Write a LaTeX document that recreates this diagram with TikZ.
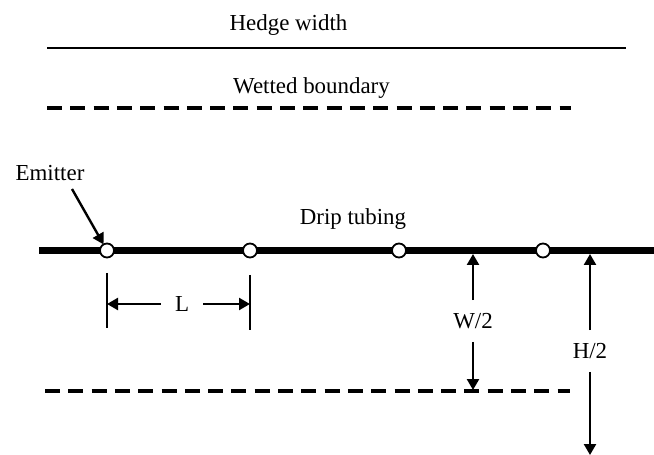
\documentclass[tikz,border=0pt]{standalone}
\usepackage{fontspec}
\setmainfont{Liberation Serif}
\usetikzlibrary{arrows.meta}

\begin{document}
\begin{tikzpicture}[
  x=1bp, y=-1bp,
  font=\fontsize{23}{27}\selectfont,
  dimarrow/.style={line width=2.4bp, -{Triangle[length=11bp,width=12bp]}},
  emitter/.style={circle, draw, fill=white, line width=1.8bp,
    minimum size=14bp, inner sep=0pt, outer sep=0pt},
  dimlbl/.style={inner xsep=2bp, inner ysep=13bp},
  boundary/.style={line width=3.4bp, dash pattern=on 15bp off 8.3bp},
]
\useasboundingbox (0,0) rectangle (654,455);

% Geometry
\def\tubeY{250.5}   % centre line of the drip tubing
\def\tubeEdge{254}  % lower edge of the tubing (arrow tips stop here)
\def\wetY{390}      % lower wetted boundary

% ── Hedge width and upper wetted boundary ───────────────────────────────
\node[anchor=base] (hedgelbl) at (288.5,31) {Hedge width};
\draw[line width=2.4bp] (47,48) -- (626,48);

\node[anchor=base] (wetlbl) at (311.5,94) {Wetted boundary};
\draw[boundary] (47,108) -- (571,108);

% ── Drip tubing with emitters ───────────────────────────────────────────
\draw[line width=7bp] (39,\tubeY) -- (654,\tubeY);
\node[anchor=base] (tubelbl) at (353,225) {Drip tubing};

\foreach \n/\xx in {1/107, 2/250, 3/399, 4/543} {
  \node[emitter] (e\n) at (\xx,\tubeY) {};
}

% Emitter label and its pointer
\node[anchor=base] (emitlbl) at (50,181) {Emitter};
\coordinate (emitstart) at (72,189);
\draw[dimarrow] (emitstart) -- (e1);

% ── Emitter spacing L ───────────────────────────────────────────────────
\coordinate (ltop1) at (107,273);
\coordinate (lbot1) at (107,328);
\coordinate (ltop2) at (250,275);
\coordinate (lbot2) at (250,330);
\draw[line width=2.2bp] (ltop1) -- (lbot1);
\draw[line width=2.2bp] (ltop2) -- (lbot2);

\node[inner xsep=14bp] (llbl) at (182,304) {L};
\draw[dimarrow] (llbl.west) -- (107,304 -| ltop1);
\draw[dimarrow] (llbl.east) -- (250,304 -| ltop2);

% ── Half wetted width W/2 ───────────────────────────────────────────────
\node[dimlbl] (wlbl) at (473,321) {W/2};
\coordinate (wtop) at (473,\tubeEdge);
\coordinate (wbot) at (473,\wetY);
\draw[dimarrow] (wlbl.north) -- (wtop);
\draw[dimarrow] (wlbl.south) -- (wbot);

% lower wetted boundary
\draw[boundary] (45,391) -- (570,391);

% ── Half hedge width H/2 ────────────────────────────────────────────────
\node[dimlbl] (hlbl) at (590,351) {H/2};
\coordinate (htop) at (590,\tubeEdge);
\coordinate (hbot) at (590,455);
\draw[dimarrow] (hlbl.north) -- (htop);
\draw[dimarrow] (hlbl.south) -- (hbot);

\end{tikzpicture}
\end{document}
